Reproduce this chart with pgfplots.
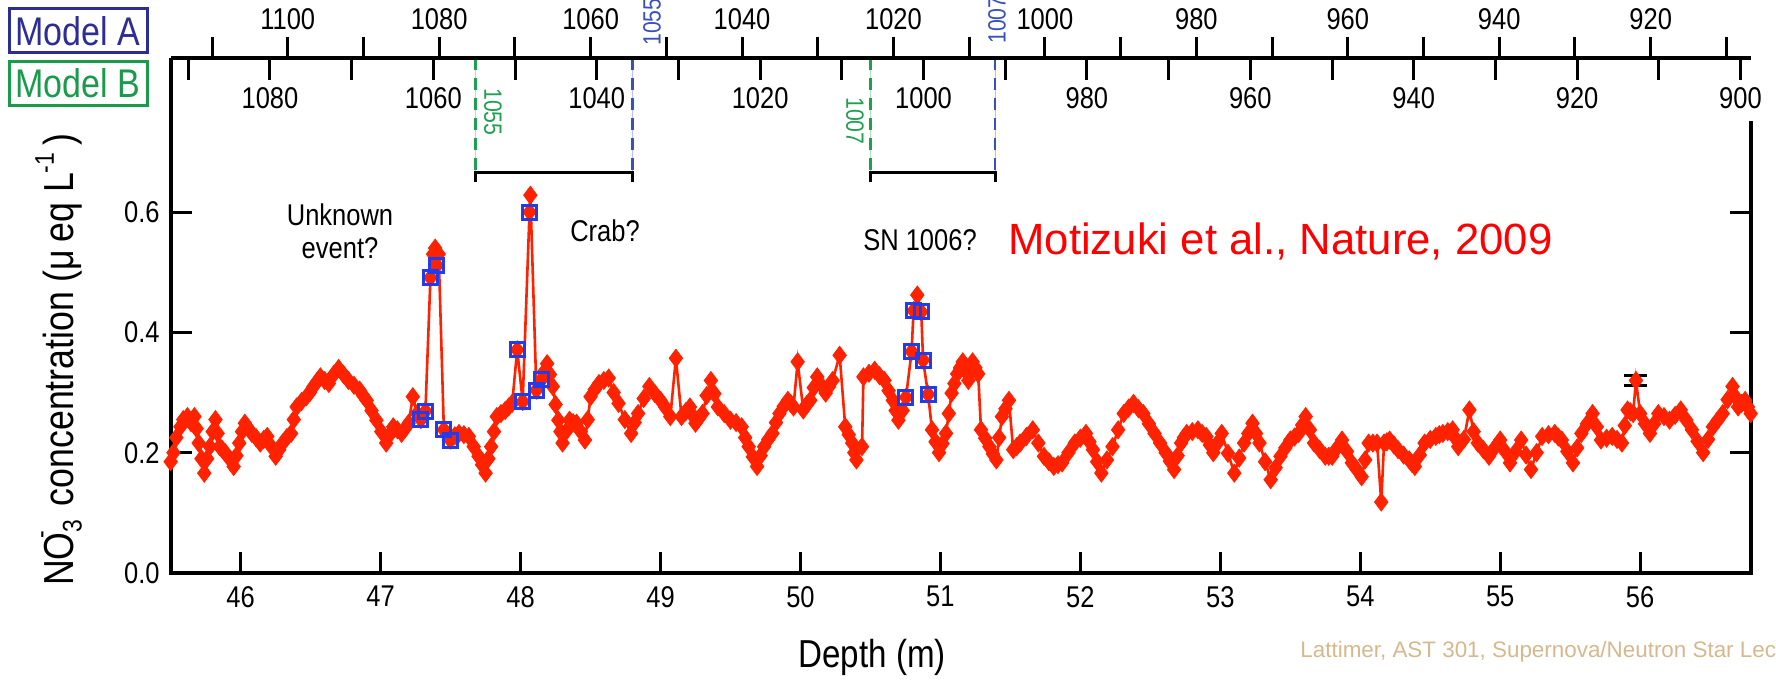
\documentclass[border=0pt]{standalone}
\usepackage{fontspec}
\setmainfont{Liberation Sans}[FakeStretch=0.85]
\newfontfamily\plainsans{Liberation Sans}
\usepackage{pgfplots}
\usepackage{pgfplotstable}
\pgfplotsset{compat=1.18}

\definecolor{nitrate}{RGB}{255,34,0}
\definecolor{sqblue}{RGB}{35,60,235}
\definecolor{modelA}{RGB}{45,45,150}
\definecolor{modelB}{RGB}{25,155,75}
\definecolor{dashA}{RGB}{55,80,190}
\definecolor{dashB}{RGB}{30,160,80}
\definecolor{credit}{RGB}{214,184,140}

% NO3- concentration along the core (depth in m, concentration in micro-eq/L)
\pgfplotstableread{
depth conc
45.50 0.185
45.52 0.200
45.54 0.225
45.57 0.243
45.59 0.255
45.62 0.260
45.645 0.250
45.67 0.260
45.685 0.240
45.70 0.216
45.72 0.190
45.74 0.166
45.76 0.190
45.78 0.210
45.80 0.235
45.82 0.255
45.835 0.232
45.85 0.210
45.87 0.205
45.89 0.200
45.92 0.190
45.95 0.177
45.97 0.195
45.99 0.216
46.01 0.235
46.03 0.249
46.055 0.240
46.08 0.232
46.11 0.225
46.14 0.216
46.165 0.222
46.19 0.227
46.22 0.210
46.25 0.194
46.275 0.205
46.30 0.216
46.33 0.225
46.36 0.232
46.38 0.255
46.40 0.276
46.435 0.285
46.47 0.293
46.495 0.300
46.52 0.310
46.545 0.318
46.57 0.326
46.60 0.320
46.63 0.315
46.665 0.330
46.70 0.340
46.735 0.330
46.77 0.320
46.81 0.312
46.85 0.304
46.875 0.295
46.90 0.287
46.935 0.270
46.97 0.254
47.005 0.235
47.04 0.216
47.065 0.230
47.09 0.243
47.12 0.238
47.15 0.232
47.175 0.240
47.20 0.249
47.23 0.293
47.26 0.265
47.288 0.255
47.32 0.269
47.356 0.491
47.375 0.530
47.39 0.540
47.402 0.511
47.415 0.530
47.452 0.238
47.475 0.230
47.498 0.221
47.53 0.228
47.56 0.232
47.595 0.230
47.63 0.227
47.665 0.210
47.70 0.194
47.725 0.180
47.75 0.166
47.77 0.190
47.79 0.210
47.81 0.235
47.83 0.260
47.86 0.265
47.89 0.270
47.915 0.276
47.94 0.282
47.976 0.371
48.015 0.285
48.064 0.600
48.07 0.628
48.113 0.304
48.149 0.321
48.17 0.335
48.19 0.348
48.21 0.330
48.23 0.310
48.25 0.280
48.27 0.254
48.285 0.235
48.30 0.216
48.325 0.235
48.35 0.254
48.375 0.250
48.40 0.249
48.43 0.235
48.46 0.221
48.48 0.255
48.50 0.293
48.53 0.305
48.56 0.315
48.595 0.320
48.63 0.324
48.665 0.300
48.70 0.282
48.745 0.255
48.79 0.232
48.815 0.250
48.84 0.265
48.88 0.290
48.92 0.310
48.96 0.298
49.00 0.287
49.035 0.275
49.07 0.260
49.11 0.357
49.15 0.260
49.18 0.268
49.21 0.276
49.23 0.262
49.25 0.249
49.275 0.257
49.30 0.265
49.33 0.295
49.36 0.320
49.385 0.298
49.41 0.276
49.455 0.265
49.50 0.254
49.54 0.250
49.58 0.243
49.605 0.225
49.63 0.210
49.66 0.193
49.69 0.177
49.715 0.195
49.74 0.210
49.77 0.222
49.80 0.232
49.825 0.250
49.85 0.265
49.88 0.277
49.91 0.287
49.93 0.282
49.95 0.276
49.98 0.351
50.02 0.271
50.045 0.280
50.07 0.287
50.095 0.308
50.12 0.326
50.15 0.312
50.18 0.299
50.205 0.310
50.23 0.320
50.28 0.362
50.32 0.243
50.345 0.230
50.37 0.216
50.385 0.200
50.40 0.188
50.44 0.210
50.45 0.326
50.49 0.332
50.53 0.337
50.565 0.328
50.60 0.320
50.63 0.303
50.66 0.287
50.68 0.270
50.70 0.254
50.73 0.270
50.754 0.292
50.794 0.368
50.808 0.436
50.835 0.462
50.863 0.434
50.876 0.354
50.912 0.297
50.94 0.238
50.965 0.218
50.99 0.200
51.015 0.215
51.04 0.232
51.06 0.265
51.08 0.299
51.10 0.315
51.12 0.331
51.14 0.341
51.16 0.351
51.18 0.335
51.20 0.320
51.215 0.335
51.23 0.351
51.25 0.341
51.27 0.331
51.29 0.238
51.32 0.224
51.35 0.210
51.375 0.198
51.40 0.188
51.42 0.225
51.44 0.260
51.465 0.273
51.49 0.287
51.52 0.205
51.545 0.210
51.57 0.216
51.615 0.227
51.66 0.238
51.70 0.216
51.74 0.194
51.775 0.185
51.81 0.177
51.84 0.180
51.87 0.183
51.915 0.200
51.96 0.216
52.00 0.224
52.04 0.232
52.065 0.218
52.09 0.205
52.12 0.185
52.15 0.166
52.19 0.188
52.23 0.210
52.27 0.238
52.31 0.265
52.345 0.274
52.38 0.282
52.415 0.273
52.45 0.265
52.49 0.248
52.53 0.232
52.57 0.216
52.61 0.200
52.64 0.186
52.67 0.172
52.695 0.195
52.72 0.216
52.74 0.225
52.76 0.232
52.80 0.235
52.84 0.238
52.87 0.232
52.90 0.227
52.925 0.213
52.95 0.200
52.98 0.216
53.01 0.232
53.055 0.199
53.10 0.166
53.135 0.191
53.17 0.216
53.20 0.232
53.23 0.249
53.255 0.232
53.28 0.216
53.32 0.185
53.36 0.155
53.395 0.175
53.43 0.194
53.465 0.208
53.50 0.221
53.53 0.226
53.56 0.232
53.585 0.246
53.61 0.260
53.64 0.238
53.67 0.216
53.71 0.205
53.75 0.194
53.775 0.194
53.80 0.194
53.835 0.208
53.87 0.221
53.905 0.202
53.94 0.183
53.975 0.172
54.01 0.160
54.035 0.188
54.06 0.216
54.09 0.216
54.12 0.216
54.15 0.118
54.17 0.216
54.19 0.218
54.21 0.221
54.24 0.213
54.27 0.205
54.31 0.196
54.35 0.188
54.37 0.182
54.39 0.177
54.425 0.196
54.46 0.216
54.50 0.222
54.54 0.227
54.565 0.230
54.59 0.232
54.625 0.235
54.66 0.238
54.68 0.224
54.70 0.210
54.74 0.222
54.78 0.271
54.81 0.235
54.84 0.216
54.88 0.205
54.92 0.194
54.96 0.208
55.00 0.221
55.035 0.202
55.07 0.183
55.11 0.202
55.15 0.221
55.185 0.196
55.22 0.172
55.26 0.200
55.30 0.227
55.345 0.230
55.39 0.232
55.415 0.226
55.44 0.221
55.48 0.202
55.52 0.183
55.55 0.208
55.58 0.232
55.62 0.248
55.66 0.265
55.69 0.243
55.72 0.221
55.76 0.224
55.80 0.227
55.835 0.222
55.87 0.216
55.89 0.245
55.91 0.271
55.93 0.268
55.95 0.265
55.97 0.320
56.00 0.265
56.035 0.248
56.07 0.232
56.10 0.248
56.13 0.265
56.17 0.260
56.21 0.254
56.25 0.262
56.29 0.271
56.33 0.254
56.37 0.238
56.41 0.219
56.45 0.200
56.485 0.222
56.52 0.243
56.555 0.254
56.59 0.265
56.625 0.288
56.66 0.310
56.68 0.293
56.70 0.276
56.725 0.282
56.75 0.287
56.77 0.276
56.79 0.265
}\nitratedata

% samples flagged around the three candidate events
\pgfplotstableread{
depth conc
47.288 0.255
47.32 0.269
47.356 0.491
47.402 0.511
47.452 0.238
47.498 0.221
47.976 0.371
48.015 0.285
48.064 0.600
48.113 0.304
48.149 0.321
50.754 0.292
50.794 0.368
50.808 0.436
50.863 0.434
50.876 0.354
50.912 0.297
}\eventdata

% typical measurement uncertainty
\pgfplotstableread{
depth conc err
55.97 0.320 0.009
}\errdata

\begin{document}
\begin{tikzpicture}[x=0.5pt,y=0.5pt]
\path[use as bounding box] (0,0) rectangle (1776,687);

% ---- main panel ----
\begin{axis}[
  at={(85.35pt,57pt)}, anchor=south west,
  scale only axis, width=790pt, height=257.5pt,
  xmin=45.5, xmax=56.79, ymin=0, ymax=0.856,
  clip=false,
  axis line style={draw=none},
  tick align=inside,
  xtick={46,...,56}, xtick pos=left,
  ytick={0,0.2,0.4,0.6}, ytick pos=both, yticklabel pos=left,
  major tick length=10.5pt,
  every tick/.style={black, line width=1.5pt},
  /pgf/number format/assume math mode=true,
  ticklabel style={font=\fontsize{15}{15}\selectfont},
  xticklabel style={yshift=-3pt},
  yticklabel style={xshift=-2pt, /pgf/number format/.cd, fixed, fixed zerofill, precision=1},
  scaled ticks=false,
  xlabel={Depth (m)},
  xlabel style={font=\fontsize{19.5}{20}\selectfont, at={(axis description cs:0.444,-0.163)}, anchor=center},
  ylabel={NO\raisebox{-0.35ex}{\fontsize{13.5}{13.5}\selectfont 3}\hspace{-0.45em}\raisebox{1.1ex}{\fontsize{13.5}{13.5}\selectfont -}\hspace{0.35em} concentration (μ\,eq L\raisebox{0.9ex}{\fontsize{13.5}{13.5}\selectfont -1}\,)},
  ylabel style={font=\fontsize{21}{21}\selectfont, at={(axis description cs:-0.0707,0.414)}, anchor=center},
]
\addplot[nitrate, line width=1.3pt, mark=diamond*, mark size=4.5pt,
  mark options={solid, fill=nitrate, draw=nitrate, line width=0.4pt}]
  table[x=depth, y=conc] {\nitratedata};
\addplot[only marks, mark=square, mark size=3.5pt, sqblue, line width=1.5pt]
  table[x=depth, y=conc] {\eventdata};
\addplot[only marks, mark=*, mark size=1pt, nitrate,
  error bars/.cd, y dir=both, y explicit,
  error bar style={black, line width=1.5pt},
  error mark options={black, line width=1.5pt, mark size=5.75pt, rotate=90}]
  table[x=depth, y=conc, y error=err] {\errdata};

% frame: left, bottom and right sides
\draw[black, line width=2pt] (rel axis cs:0,1) -- (rel axis cs:0,0) -- (rel axis cs:1,0) -- (axis cs:56.79,0.751);

% year markers carried down from the two age scales
\draw[dashB, line width=0.5pt, opacity=0.35] (axis cs:47.68,0.856) -- (axis cs:47.68,0.665);
\draw[dashB, line width=1.3pt, dash pattern=on 6pt off 4pt] (axis cs:47.68,0.856) -- (axis cs:47.68,0.665);
\draw[dashA, line width=0.5pt, opacity=0.35] (axis cs:48.80,0.856) -- (axis cs:48.80,0.665);
\draw[dashA, line width=1.3pt, dash pattern=on 6pt off 4pt] (axis cs:48.80,0.856) -- (axis cs:48.80,0.665);
\draw[black, line width=1.5pt] (axis cs:47.68,0.650) -- (axis cs:47.68,0.665) -- (axis cs:48.80,0.665) -- (axis cs:48.80,0.650);

\draw[dashB, line width=0.5pt, opacity=0.35] (axis cs:50.50,0.856) -- (axis cs:50.50,0.665);
\draw[dashB, line width=1.3pt, dash pattern=on 6pt off 4pt] (axis cs:50.50,0.856) -- (axis cs:50.50,0.665);
\draw[dashA, line width=0.5pt, opacity=0.35] (axis cs:51.39,0.856) -- (axis cs:51.39,0.665);
\draw[dashA, line width=1.3pt, dash pattern=on 6pt off 4pt] (axis cs:51.39,0.856) -- (axis cs:51.39,0.665);
\draw[black, line width=1.5pt] (axis cs:50.50,0.650) -- (axis cs:50.50,0.665) -- (axis cs:51.39,0.665) -- (axis cs:51.39,0.650);
\end{axis}

% ---- Model A age scale (years AD) ----
\begin{axis}[
  at={(85.35pt,314.5pt)}, anchor=north west,
  scale only axis, width=790pt, height=20pt,
  xmin=906.79, xmax=1115.46, x dir=reverse, ymin=0, ymax=1,
  axis x line*=top, axis y line=none,
  x axis line style={line width=2pt, -},
  tick align=outside,
  xtick={920,940,...,1100}, minor xtick={910,930,...,1110},
  major tick length=10.5pt, minor tick length=10.5pt,
  every tick/.style={black, line width=1.5pt},
  every minor tick/.style={black, line width=1.5pt},
  /pgf/number format/assume math mode=true,
  xticklabel style={font=\fontsize{15}{15}\selectfont, /pgf/number format/1000 sep={}},
  scaled ticks=false,
]
\end{axis}

% ---- Model B age scale (years AD) ----
\begin{axis}[
  at={(85.35pt,314.5pt)}, anchor=south west,
  scale only axis, width=790pt, height=20pt,
  xmin=898.75, xmax=1092.15, x dir=reverse, ymin=0, ymax=1,
  axis x line*=bottom, axis y line=none,
  x axis line style={line width=2pt, -},
  tick align=outside,
  xtick={900,920,...,1080}, minor xtick={910,930,...,1090},
  major tick length=11pt, minor tick length=11pt,
  every tick/.style={black, line width=1.5pt},
  every minor tick/.style={black, line width=1.5pt},
  /pgf/number format/assume math mode=true,
  xticklabel style={font=\fontsize{15}{15}\selectfont, /pgf/number format/1000 sep={}},
  scaled ticks=false,
]
\end{axis}

% scale names
\node[draw=modelA, line width=1.5pt, text=modelA, font=\fontsize{20}{20}\selectfont,
  minimum width=69pt, minimum height=22pt, inner sep=0pt] at (78,656) {Model A};
\node[draw=modelB, line width=1.5pt, text=modelB, font=\fontsize{20}{20}\selectfont,
  minimum width=69pt, minimum height=22pt, inner sep=0pt] at (78,603.5) {Model B};

% year values of the markers
\node[rotate=-90, text=dashB, font=\fontsize{12.5}{12.5}\selectfont] at (493,575) {1055};
\node[rotate=90, text=dashA, font=\fontsize{12.5}{12.5}\selectfont] at (652,665) {1055};
\node[rotate=-90, text=dashB, font=\fontsize{12.5}{12.5}\selectfont] at (855,566) {1007};
\node[rotate=90, text=dashA, font=\fontsize{12.5}{12.5}\selectfont] at (997,667) {1007};

% event annotations
\node[align=center, font=\fontsize{15}{16.5}\selectfont] at (340,456) {Unknown\\event?};
\node[font=\fontsize{15}{15}\selectfont] at (605,456) {Crab?};
\node[font=\fontsize{15}{15}\selectfont] at (920,447) {SN 1006?};

\node[anchor=base west, text=red, font=\plainsans\fontsize{21.85}{22}\selectfont, inner sep=0pt]
  at (1008,433) {Motizuki et al., Nature, 2009};

\node[anchor=west, text=credit, font=\plainsans\fontsize{11.2}{11.2}\selectfont, inner sep=0pt]
  at (1300,35) {Lattimer, AST 301, Supernova/Neutron Star Lecture};
\end{tikzpicture}
\end{document}
